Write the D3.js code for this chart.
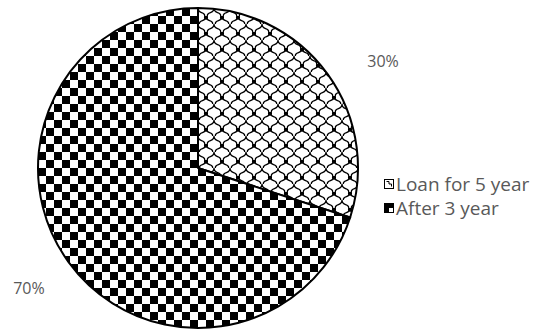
<!DOCTYPE html>
<html>
<head>
<meta charset="utf-8">
<script src="https://cdn.jsdelivr.net/npm/d3@7"></script>
<style>
  body { margin: 0; background: #fff; }
  text { font-family: "Open Sans", "Noto Sans", sans-serif; fill: #595959; }
</style>
</head>
<body>
<svg id="chart" width="540" height="336"></svg>
<script>
// chart data
var categories = ["Loan for 5 year", "After 3 year"];
var values = [30, 70];
var labels = ["30%", "70%"];

var svg = d3.select("#chart"),
    cx = 198, cy = 168,
    radius = 160;

var defs = svg.append("defs");

// fish scale pattern for first slice
var scales = defs.append("pattern")
    .attr("id", "scales")
    .attr("patternUnits", "userSpaceOnUse")
    .attr("width", 16).attr("height", 16);
scales.append("rect").attr("width", 16).attr("height", 16).attr("fill", "#fff");
scales.append("path")
    .attr("d", "M0,0 C0,5 4,4 6,6 C8,8 5,11 8,11 C11,11 8,8 10,6 C12,4 16,5 16,0" +
               " M-8,8 C-8,13 -4,12 -2,14 C0,16 -3,19 0,19 C3,19 0,16 2,14 C4,12 8,13 8,8" +
               " M8,8 C8,13 12,12 14,14 C16,16 13,19 16,19 C19,19 16,16 18,14 C20,12 24,13 24,8")
    .attr("fill", "none")
    .attr("stroke", "#000")
    .attr("stroke-width", 1.3);

// checker pattern for second slice
var checker = defs.append("pattern")
    .attr("id", "checker")
    .attr("patternUnits", "userSpaceOnUse")
    .attr("width", 16).attr("height", 16);
checker.append("rect").attr("width", 16).attr("height", 16).attr("fill", "#fff");
checker.append("rect").attr("width", 8).attr("height", 8).attr("fill", "#000");
checker.append("rect").attr("x", 8).attr("y", 8).attr("width", 8).attr("height", 8).attr("fill", "#000");

var fills = ["url(#scales)", "url(#checker)"];

var pie = d3.pie().sort(null).value(function(d) { return d; });
var arc = d3.arc().innerRadius(0).outerRadius(radius);
var arcs = pie(values);

var g = svg.append("g").attr("transform", "translate(" + cx + "," + cy + ")");

g.selectAll(".slice")
    .data(arcs)
    .enter().append("path")
    .attr("class", "slice")
    .attr("d", arc)
    .attr("fill", function(d, i) { return fills[i]; })
    .attr("stroke", "#000")
    .attr("stroke-width", 2)
    .attr("stroke-linejoin", "round");

// labels outside the pie (excel nudges the small one a bit)
var nudge = [[16, 16], [0, -3]];
g.selectAll(".lbl")
    .data(arcs)
    .enter().append("text")
    .attr("class", "lbl")
    .attr("font-size", "16px")
    .attr("text-anchor", "middle")
    .attr("dominant-baseline", "central")
    .attr("transform", function(d, i) {
        var a = (d.startAngle + d.endAngle) / 2;
        var p = d3.pointRadial(a, 209);
        return "translate(" + (p[0] + nudge[i][0]) + "," + (p[1] + nudge[i][1]) + ")";
    })
    .text(function(d, i) { return labels[i]; });

// legend
var legend = svg.append("g").attr("transform", "translate(384,184)");
var item = legend.selectAll(".item")
    .data(categories)
    .enter().append("g")
    .attr("class", "item")
    .attr("transform", function(d, i) { return "translate(0," + (i * 24) + ")"; });

item.append("rect")
    .attr("x", 0.5).attr("y", -4.5)
    .attr("width", 9).attr("height", 9)
    .attr("fill", "#fff")
    .attr("stroke", "#000");
item.append("path")
    .attr("d", function(d, i) {
        return i == 0 ? "M2.5,-2.5 L5,-2.5 L5,0 L7.5,0 L7.5,2.5" : "M1,-4 H9 V0 H5 V4 H1 Z";
    })
    .attr("fill", function(d, i) { return i == 0 ? "none" : "#000"; })
    .attr("stroke", "#000")
    .attr("stroke-width", function(d, i) { return i == 0 ? 1 : 0; });

item.append("text")
    .attr("x", 12)
    .attr("y", 0)
    .attr("dominant-baseline", "central")
    .attr("font-size", "19px")
    .text(function(d) { return d; });
</script>
</body>
</html>
